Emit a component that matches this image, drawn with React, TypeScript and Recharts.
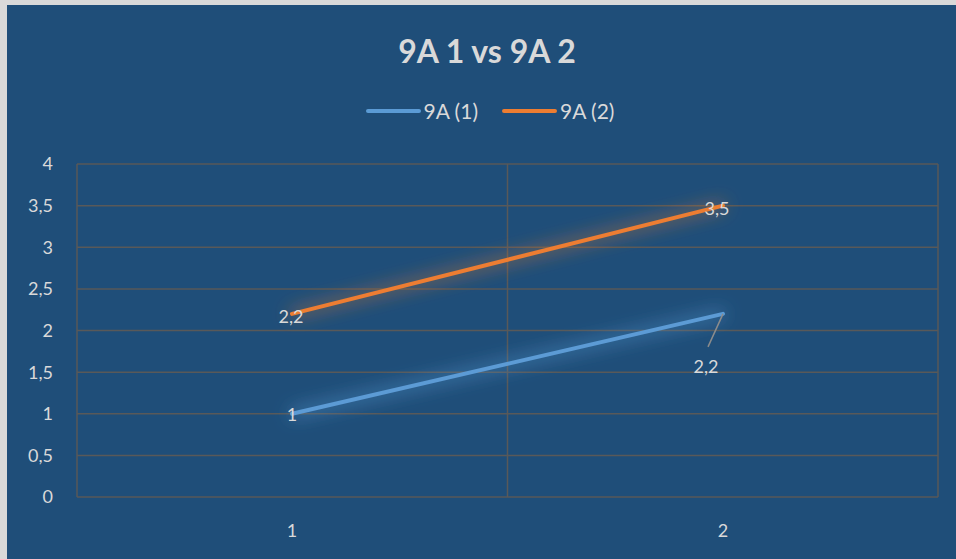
import React from "react";
import {
  LineChart,
  Line,
  XAxis,
  YAxis,
  CartesianGrid,
  Legend,
  LabelList,
} from "recharts";

const categories = ["1", "2"];
const series1 = [1, 2.2];
const series2 = [2.2, 3.5];
const yTicks = [0, 0.5, 1, 1.5, 2, 2.5, 3, 3.5, 4];
const seriesNames = ["9A (1)", "9A (2)"];

const data = categories.map((c, i) => ({ name: c, s1: series1[i], s2: series2[i] }));

const BG = "#1f4e79";
const TEXT = "#d9d9d9";
const GRID = "#595959";
const BLUE = "#5b9bd5";
const ORANGE = "#ed7d31";
const FONT = "Lato, 'Open Sans', sans-serif";

const fmt = (v: number) => String(v).replace(".", ",");

// vertical grid lines sit on the category boundaries, like Excel does
const boundaryLines = ({ offset }: any) => {
  const n = categories.length;
  return Array.from({ length: n + 1 }, (_, i) => offset.left + (offset.width * i) / n);
};

const CenterLabel = (props: any) => {
  const { x, y, value } = props;
  return (
    <text x={x} y={y} textAnchor="middle" dominantBaseline="central" fill={TEXT} fontSize={18} fontFamily={FONT}>
      {fmt(value)}
    </text>
  );
};

const BlueLabel = (props: any) => {
  const { x, y, value, index } = props;
  if (index === 1) {
    return (
      <g>
        <line x1={x} y1={y} x2={x - 15} y2={y + 33} stroke="#8c8c8c" strokeWidth={1.5} />
        <text x={x - 17} y={y + 52} textAnchor="middle" dominantBaseline="central" fill={TEXT} fontSize={18} fontFamily={FONT}>
          {fmt(value)}
        </text>
      </g>
    );
  }
  return <CenterLabel {...props} />;
};

const OrangeLabel = (props: any) => {
  const { x, y, value, index } = props;
  return (
    <text x={index === 1 ? x - 6 : x - 1} y={y + 2} textAnchor="middle" dominantBaseline="central" fill={TEXT} fontSize={18} fontFamily={FONT}>
      {fmt(value)}
    </text>
  );
};

const LegendContent = () => (
  <div style={{ display: "flex", justifyContent: "center", alignItems: "center", paddingLeft: 17, fontFamily: FONT, fontSize: 21, color: TEXT }}>
    {[BLUE, ORANGE].map((c, i) => (
      <div key={i} style={{ display: "flex", alignItems: "center", marginRight: i === 0 ? 24 : 0 }}>
        <div style={{ width: 55, height: 4, borderRadius: 2, background: c, marginRight: 3 }} />
        <span>{seriesNames[i]}</span>
      </div>
    ))}
  </div>
);

const Glow = ({ id, opacity }: { id: string; opacity: number }) => (
  <filter id={id} x="-20%" y="-150%" width="140%" height="400%">
    <feGaussianBlur in="SourceGraphic" stdDeviation="9" result="b" />
    <feComponentTransfer in="b" result="bf">
      <feFuncA type="linear" slope={opacity} />
    </feComponentTransfer>
    <feMerge>
      <feMergeNode in="bf" />
      <feMergeNode in="SourceGraphic" />
    </feMerge>
  </filter>
);

export default function App() {
  return (
    <div style={{ position: "absolute", left: 0, top: 0, width: 956, height: 559, background: "#d9d9d9", overflow: "hidden" }}>
      <div style={{ position: "absolute", left: 7, top: 5, width: 949, height: 554, background: BG }}>
        <div style={{ position: "absolute", top: 26, left: 0, width: 960, textAlign: "center", fontFamily: FONT, fontWeight: 700, fontSize: 32, color: TEXT }}>
          9A 1 vs 9A 2
        </div>
        <LineChart width={949} height={554} data={data} margin={{ top: 159, right: 18, bottom: 32, left: 20 }}>
          <defs>
            <Glow id="glow-blue" opacity={1.3} />
            <Glow id="glow-orange" opacity={1.1} />
          </defs>
          <CartesianGrid stroke={GRID} strokeWidth={1.5} verticalCoordinatesGenerator={boundaryLines} />
          <XAxis
            dataKey="name"
            padding={{ left: 215, right: 215 }}
            axisLine={false}
            tickLine={false}
            tickSize={0}
            tickMargin={27}
            height={30}
            tick={{ fill: TEXT, fontSize: 18, fontFamily: FONT }}
          />
          <YAxis
            domain={[0, 4]}
            ticks={yTicks}
            width={50}
            axisLine={false}
            tickLine={false}
            tickSize={0}
            tickMargin={24}
            tickFormatter={fmt}
            tick={{ fill: TEXT, fontSize: 18, fontFamily: FONT }}
          />
          <Legend
            verticalAlign="middle"
            align="center"
            content={<LegendContent />}
            wrapperStyle={{ top: 93, left: 0, width: 949 }}
          />
          <Line
            dataKey="s1"
            name={seriesNames[0]}
            stroke={BLUE}
            strokeWidth={4}
            strokeLinecap="round"
            dot={false}
            filter="url(#glow-blue)"
            isAnimationActive={false}
          >
            <LabelList dataKey="s1" content={<BlueLabel />} />
          </Line>
          <Line
            dataKey="s2"
            name={seriesNames[1]}
            stroke={ORANGE}
            strokeWidth={4}
            strokeLinecap="round"
            dot={false}
            filter="url(#glow-orange)"
            isAnimationActive={false}
          >
            <LabelList dataKey="s2" content={<OrangeLabel />} />
          </Line>
        </LineChart>
      </div>
    </div>
  );
}
